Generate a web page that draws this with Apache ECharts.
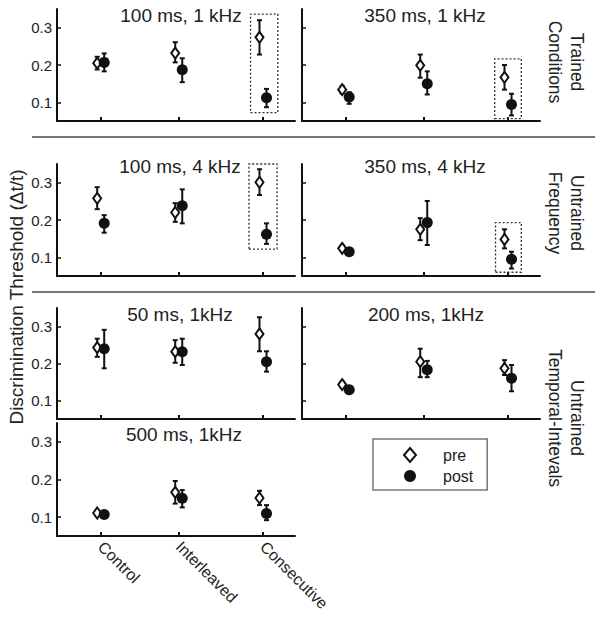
<!DOCTYPE html>
<html><head><meta charset="utf-8">
<script src="https://cdn.jsdelivr.net/npm/echarts@6/dist/echarts.min.js"></script>
<style>html,body{margin:0;padding:0;background:#fff}#chart{width:602px;height:618px}</style>
</head><body><div id="chart"></div>
<script>
// ---------- data ----------
const categories = ['Control', 'Interleaved', 'Consecutive'];
const categoryPos = [1, 2, 3.08];
const panelTitles = ['100 ms, 1 kHz', '350 ms, 1 kHz', '100 ms, 4 kHz', '350 ms, 4 kHz', '50 ms, 1kHz', '200 ms, 1kHz', '500 ms, 1kHz'];
const yTicks = [0.1, 0.2, 0.3];
const seriesNames = ['pre', 'post'];
const rowLabels = ['Trained\nConditions', 'Untrained\nFrequency', 'Untrained\nTemporal-Intevals'];
const yAxisTitle = 'Discrimination Threshold (\u0394t/t)';

// one row per panel, values for Control, Interleaved, Consecutive
const preMean = [
  [0.205, 0.232, 0.274],
  [0.134, 0.199, 0.167],
  [0.258, 0.220, 0.301],
  [0.124, 0.175, 0.148],
  [0.243, 0.232, 0.280],
  [0.143, 0.205, 0.187],
  [0.111, 0.166, 0.151]
];
const preLow = [
  [0.188, 0.207, 0.228],
  [0.124, 0.166, 0.134],
  [0.229, 0.195, 0.267],
  [0.116, 0.146, 0.124],
  [0.218, 0.202, 0.233],
  [0.135, 0.163, 0.169],
  [0.103, 0.136, 0.132]
];
const preHigh = [
  [0.222, 0.261, 0.320],
  [0.144, 0.228, 0.200],
  [0.288, 0.245, 0.336],
  [0.132, 0.205, 0.175],
  [0.267, 0.263, 0.325],
  [0.151, 0.240, 0.209],
  [0.119, 0.196, 0.170]
];
const postMean = [
  [0.207, 0.187, 0.112],
  [0.114, 0.150, 0.094],
  [0.191, 0.238, 0.162],
  [0.115, 0.193, 0.095],
  [0.240, 0.232, 0.205],
  [0.129, 0.183, 0.160],
  [0.107, 0.150, 0.110]
];
const postLow = [
  [0.183, 0.154, 0.087],
  [0.096, 0.121, 0.065],
  [0.166, 0.191, 0.136],
  [0.108, 0.133, 0.070],
  [0.187, 0.196, 0.178],
  [0.121, 0.163, 0.125],
  [0.100, 0.126, 0.092]
];
const postHigh = [
  [0.231, 0.218, 0.136],
  [0.127, 0.183, 0.123],
  [0.213, 0.282, 0.191],
  [0.122, 0.251, 0.115],
  [0.291, 0.267, 0.233],
  [0.137, 0.207, 0.196],
  [0.114, 0.172, 0.132]
];
// dotted highlight boxes: [panel, xFrom, xTo, yFrom, yTo]
const highlightBoxes = [
  [0, 2.92, 3.27, 0.0725, 0.3365],
  [1, 2.91, 3.25, 0.0565, 0.2165],
  [2, 2.90, 3.26, 0.122, 0.3536],
  [3, 2.92, 3.25, 0.060, 0.193]
];

// ---------- layout ----------
const grids = [
  {left: 57, top: 9, width: 238, height: 112},
  {left: 302, top: 9, width: 238, height: 112},
  {left: 57, top: 164, width: 238, height: 112},
  {left: 302, top: 164, width: 238, height: 112},
  {left: 57, top: 308, width: 238, height: 111},
  {left: 302, top: 308, width: 238, height: 111},
  {left: 57, top: 423, width: 238, height: 113}
];
const titlePos = [[181, 6], [425, 6], [180, 157], [425, 157], [180, 305], [426, 305], [184, 425]];
const rowLabelPos = [[566, 62], [566, 213], [566, 418]];
const FONT = '"Liberation Sans", Arial, sans-serif';
const INK = '#111';
const xOffset = 0.045;

function errRender(params, api) {
  const x = api.value(0);
  const lo = api.coord([x, api.value(1)]);
  const hi = api.coord([x, api.value(2)]);
  const st = {stroke: INK, lineWidth: 2};
  return {type: 'group', children: [
    {type: 'line', shape: {x1: lo[0], y1: lo[1], x2: hi[0], y2: hi[1]}, style: st},
    {type: 'line', shape: {x1: lo[0] - 2.5, y1: lo[1], x2: lo[0] + 2.5, y2: lo[1]}, style: st},
    {type: 'line', shape: {x1: hi[0] - 2.5, y1: hi[1], x2: hi[0] + 2.5, y2: hi[1]}, style: st}
  ]};
}

const option = {
  backgroundColor: '#fff',
  animation: false,
  grid: grids.map(g => Object.assign({containLabel: false}, g)),
  title: panelTitles.map((t, i) => ({
    text: t, left: titlePos[i][0], top: titlePos[i][1], textAlign: 'center', padding: 0,
    textStyle: {fontFamily: FONT, fontSize: 19, fontWeight: 'normal', color: '#222'}
  })),
  legend: {
    orient: 'vertical', left: 373, top: 439,
    data: [
      {name: 'pre', icon: 'diamond', itemStyle: {color: '#fff', borderColor: INK, borderWidth: 2}},
      {name: 'post', icon: 'circle', itemStyle: {color: INK, borderWidth: 0}}
    ],
    itemWidth: 12, itemHeight: 14, itemGap: 5, symbolKeepAspect: false,
    padding: [8, 14, 6, 30], borderColor: '#777', borderWidth: 1.5,
    selectedMode: false,
    textStyle: {fontFamily: FONT, fontSize: 16, color: '#222', padding: [0, 0, 0, 22]}
  },
  xAxis: grids.map((g, i) => ({
    gridIndex: i, type: 'value', min: 0.44, max: 3.49,
    axisLine: {show: true, onZero: false, lineStyle: {color: INK, width: 2}},
    axisTick: {show: true, inside: true, length: 4, customValues: categoryPos, lineStyle: {color: INK, width: 2}},
    axisLabel: {
      show: i === 6, customValues: categoryPos, rotate: -45, margin: 8,
      fontFamily: FONT, fontSize: 16, color: '#222',
      formatter: v => {
        let best = 0;
        categoryPos.forEach((p, k) => { if (Math.abs(p - v) < Math.abs(categoryPos[best] - v)) best = k; });
        return categories[best];
      }
    },
    splitLine: {show: false}
  })),
  yAxis: grids.map((g, i) => ({
    gridIndex: i, type: 'value', min: 0.05, max: 0.35,
    axisLine: {show: true, onZero: false, lineStyle: {color: INK, width: 2}},
    axisTick: {show: true, inside: true, length: 4, customValues: yTicks, lineStyle: {color: INK, width: 1.5}},
    axisLabel: {
      show: i % 2 === 0, customValues: yTicks, margin: 5,
      fontFamily: FONT, fontSize: 15, color: '#222',
      formatter: v => v.toFixed(1)
    },
    splitLine: {show: false}
  })),
  series: [],
  graphic: []
};

grids.forEach((g, i) => {
  const preX = categoryPos.map(p => p - xOffset);
  const postX = categoryPos.map(p => p + xOffset);
  const boxes = highlightBoxes.filter(b => b[0] === i).map(b => [{coord: [b[1], b[3]]}, {coord: [b[2], b[4]]}]);
  option.series.push({
    type: 'custom', name: 'pre-err', xAxisIndex: i, yAxisIndex: i, z: 2,
    renderItem: errRender,
    data: preX.map((x, k) => [x, preLow[i][k], preHigh[i][k]])
  });
  option.series.push({
    type: 'scatter', name: 'pre', xAxisIndex: i, yAxisIndex: i, z: 3,
    symbol: 'diamond', symbolSize: [8, 11],
    itemStyle: {color: '#fff', borderColor: INK, borderWidth: 2, opacity: 1},
    data: preX.map((x, k) => [x, preMean[i][k]]),
    markArea: boxes.length ? {
      silent: true,
      itemStyle: {color: 'rgba(0,0,0,0)', borderColor: '#333', borderWidth: 1.3, borderType: [2, 2]},
      data: boxes
    } : undefined
  });
  option.series.push({
    type: 'custom', name: 'post-err', xAxisIndex: i, yAxisIndex: i, z: 4,
    renderItem: errRender,
    data: postX.map((x, k) => [x, postLow[i][k], postHigh[i][k]])
  });
  option.series.push({
    type: 'scatter', name: 'post', xAxisIndex: i, yAxisIndex: i, z: 5,
    symbol: 'circle', symbolSize: 11,
    itemStyle: {color: INK, opacity: 1},
    data: postX.map((x, k) => [x, postMean[i][k]])
  });
});

// row separators
[137, 292].forEach(y => option.graphic.push({
  type: 'line', shape: {x1: 32, y1: y, x2: 595, y2: y}, style: {stroke: '#777', lineWidth: 2}, silent: true
}));
// row labels
rowLabels.forEach((t, r) => option.graphic.push({
  type: 'text', x: rowLabelPos[r][0], y: rowLabelPos[r][1], rotation: -Math.PI / 2,
  style: {text: t, font: '17.5px ' + FONT, fill: '#222', align: 'center', verticalAlign: 'middle',
          textAlign: 'center', textVerticalAlign: 'middle', lineHeight: 22}
}));
// shared y-axis title
option.graphic.push({
  type: 'text', x: 16, y: 297, rotation: Math.PI / 2,
  style: {text: yAxisTitle, font: '19px ' + FONT, fill: '#222', align: 'center', verticalAlign: 'middle',
          textAlign: 'center', textVerticalAlign: 'middle'}
});

const chart = echarts.init(document.getElementById('chart'), null, {renderer: 'svg'});
chart.setOption(option);
</script>
</body></html>
